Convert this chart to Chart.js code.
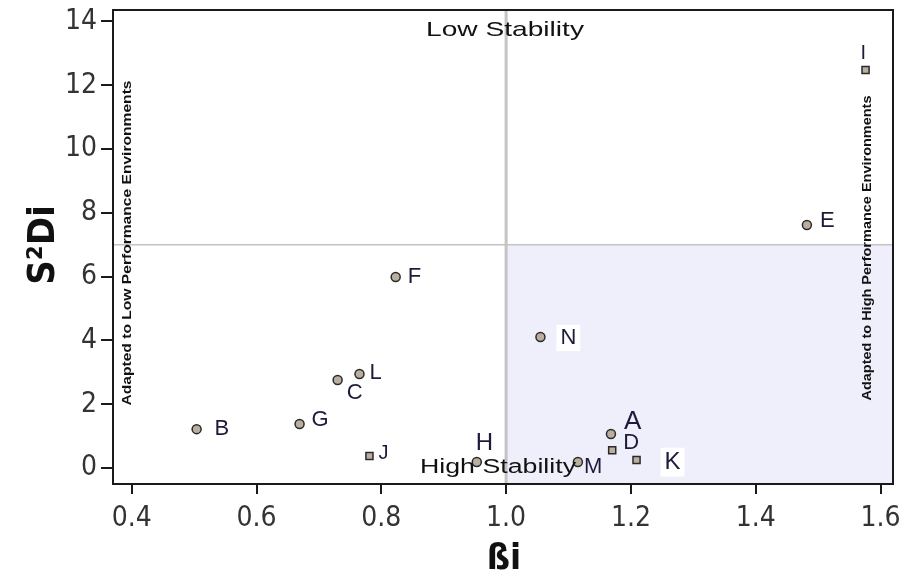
<!DOCTYPE html>
<html>
<head>
<meta charset="utf-8">
<script src="https://cdn.jsdelivr.net/npm/chart.js@4.4.0/dist/chart.umd.min.js"></script>
<style>
html, body { margin: 0; padding: 0; background: #fff; }
#contenedor { width: 901px; height: 581px; }
</style>
</head>
<body>
<div id="contenedor"><canvas id="miGrafico" width="901" height="581"></canvas></div>
<script>
// datos
const genotipos = ['A', 'B', 'C', 'D', 'E', 'F', 'G', 'H', 'I', 'J', 'K', 'L', 'M', 'N'];
const beta = [1.168, 0.504, 0.730, 1.170, 1.482, 0.823, 0.669, 0.953, 1.576, 0.781, 1.209, 0.765, 1.115, 1.055];
const s2di = [1.07, 1.22, 2.76, 0.56, 7.62, 5.99, 1.38, 0.19, 12.48, 0.38, 0.25, 2.95, 0.19, 4.11];
const ticksX = [0.4, 0.6, 0.8, 1.0, 1.2, 1.4, 1.6];
const ticksY = [0, 2, 4, 6, 8, 10, 12, 14];
const limiteBeta = 1.0;
const limiteS2di = 7;

// estilo
const cuadrados = ['D', 'I', 'J', 'K'];
const conFondo = ['K', 'N'];
const desplazamientos = {
    A: [13, -12, 26], B: [18, 0, 22], C: [9, 13, 22], D: [11, -7, 22], E: [13, -4, 22],
    F: [12, 0, 22], G: [12, -4, 22], H: [-1, -19, 24], I: [-5, -16, 20], J: [9, -2, 20],
    K: [28, 2, 24], L: [10, -1, 22], M: [6, 5, 22], N: [20, 1, 22]
};

const fuente = "'Liberation Sans', Arial, sans-serif";
const fuenteEstrecha = "'Liberation Sans Narrow', 'DejaVu Sans Condensed', 'Liberation Sans', sans-serif";

function textoEstirado(ctx, texto, x, y, largo, tam, peso, angulo) {
    ctx.save();
    ctx.translate(x, y);
    ctx.rotate(angulo);
    ctx.font = peso + ' ' + tam + 'px ' + fuente;
    const ancho = ctx.measureText(texto).width;
    ctx.scale(largo / ancho, 1);
    ctx.textAlign = 'center';
    ctx.textBaseline = 'middle';
    ctx.fillStyle = '#111';
    ctx.fillText(texto, 0, 0);
    ctx.restore();
}

const decorado = {
    id: 'decorado',
    beforeDatasetsDraw(chart) {
        const { ctx, chartArea: a, scales: { x, y } } = chart;
        const px = x.getPixelForValue(limiteBeta);
        const py = y.getPixelForValue(limiteS2di);
        ctx.save();
        ctx.fillStyle = '#efeefb';
        ctx.fillRect(px, py, a.right - px, a.bottom - py);

        ctx.strokeStyle = '#c4c4c4';
        ctx.lineWidth = 1.5;
        ctx.beginPath();
        ctx.moveTo(a.left, py);
        ctx.lineTo(a.right, py);
        ctx.stroke();
        ctx.lineWidth = 3;
        ctx.beginPath();
        ctx.moveTo(px, a.top);
        ctx.lineTo(px, a.bottom);
        ctx.stroke();

        textoEstirado(ctx, 'Low Stability', 505, 30, 158, 21, 'normal', 0);
        textoEstirado(ctx, 'Adapted to Low Performance Environments', a.left + 15, 243, 325, 12, 'bold', -Math.PI / 2);
        textoEstirado(ctx, 'Adapted to High Performance Environments', a.right - 25, 248, 305, 12, 'bold', -Math.PI / 2);
        ctx.restore();
    },
    afterDraw(chart) {
        const { ctx, chartArea: a } = chart;
        ctx.save();
        ctx.strokeStyle = '#1a1a1a';
        ctx.lineWidth = 2;
        ctx.strokeRect(a.left, a.top, a.right - a.left, a.bottom - a.top);

        const meta = chart.getDatasetMeta(0);
        ctx.textBaseline = 'middle';
        ctx.textAlign = 'left';
        meta.data.forEach((p, i) => {
            const g = genotipos[i];
            const d = desplazamientos[g];
            ctx.font = d[2] + 'px ' + fuente;
            const tx = p.x + d[0];
            const ty = p.y + d[1];
            if (conFondo.includes(g)) {
                const w = ctx.measureText(g).width;
                ctx.fillStyle = '#fff';
                ctx.fillRect(tx - 4, ty - d[2] * 0.6, w + 8, d[2] * 1.2);
            }
            ctx.fillStyle = '#1c1c3a';
            ctx.fillText(g, tx, ty);
        });

        textoEstirado(ctx, 'High Stability', 498, 467, 156, 20, 'normal', 0);

        ctx.fillStyle = '#111';
        ctx.textAlign = 'center';
        ctx.font = 'bold 38px ' + fuenteEstrecha;
        ctx.save();
        ctx.translate(44, 245);
        ctx.rotate(-Math.PI / 2);
        ctx.fillText('S²Di', 0, 0);
        ctx.restore();
        ctx.font = 'bold 36px ' + fuenteEstrecha;
        ctx.fillText('ßi', 504, 560);
        ctx.restore();
    }
};

function inicializarGrafico() {
    const ctx = document.getElementById('miGrafico').getContext('2d');
    const puntos = beta.map((b, i) => ({ x: b, y: s2di[i] }));

    new Chart(ctx, {
        type: 'scatter',
        data: {
            datasets: [{
                data: puntos,
                pointStyle: genotipos.map(g => cuadrados.includes(g) ? 'rect' : 'circle'),
                pointRadius: genotipos.map(g => cuadrados.includes(g) ? 5 : 4.5),
                backgroundColor: '#bcae9e',
                borderColor: '#2a2a2a',
                borderWidth: 1.5
            }]
        },
        options: {
            responsive: false,
            animation: false,
            events: [],
            layout: { padding: { top: 10, right: 8, left: 0, bottom: 0 } },
            plugins: { legend: { display: false }, tooltip: { enabled: false } },
            scales: {
                x: {
                    type: 'linear',
                    min: 0.37,
                    max: 1.62,
                    afterBuildTicks: s => { s.ticks = ticksX.map(v => ({ value: v })); },
                    afterFit: s => { s.height = 97; s.paddingLeft = 0; s.paddingRight = 0; },
                    border: { display: false },
                    grid: { drawOnChartArea: false, drawTicks: true, tickLength: 10, color: '#1a1a1a', lineWidth: 2 },
                    ticks: {
                        color: '#333',
                        padding: 8,
                        font: { family: fuenteEstrecha, size: 28 },
                        callback: v => v.toFixed(1)
                    }
                },
                y: {
                    type: 'linear',
                    min: -0.5,
                    max: 14.36,
                    afterBuildTicks: s => { s.ticks = ticksY.map(v => ({ value: v })); },
                    afterFit: s => { s.width = 113; s.paddingTop = 0; s.paddingBottom = 0; },
                    border: { display: false },
                    grid: { drawOnChartArea: false, drawTicks: true, tickLength: 12, color: '#1a1a1a', lineWidth: 2 },
                    ticks: {
                        color: '#333',
                        padding: 4,
                        font: { family: fuenteEstrecha, size: 28 },
                        callback: v => String(v)
                    }
                }
            }
        },
        plugins: [decorado]
    });
}

inicializarGrafico();
</script>
</body>
</html>
